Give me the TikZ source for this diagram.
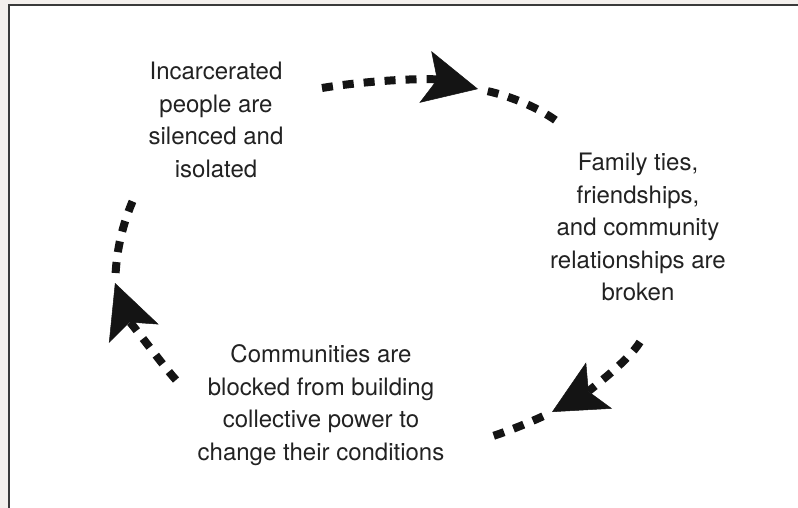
\documentclass[tikz,border=0pt]{standalone}
\usepackage{fontspec}
\setmainfont{TeX Gyre Heros}
\usetikzlibrary{arrows.meta}
\definecolor{framebg}{HTML}{F4F0ED}
\definecolor{framegray}{HTML}{3A3A3A}
\definecolor{inkgray}{HTML}{222222}

\begin{document}
\begin{tikzpicture}[x=1pt, y=-1pt,
        caption/.style={align=center, inner sep=0pt, text=inkgray, font=\fontsize{24}{32.5}\selectfont},
        loopline/.style={line width=8pt, dash pattern=on 11pt off 10pt, color=black!92},
        looptip/.style={-{Stealth[length=54pt, width=53pt, inset=12pt, line width=0.5pt]}},
        looptail/.style={shorten <=10pt}]
        \useasboundingbox (0,0) rectangle (798,508);
        \fill[framebg] (0,0) rectangle (798,508);
        \fill[white] (9,5) rectangle (798,508);
        \draw[framegray, line width=1.6pt] (9,508) -- (9,5) -- (798,5);

        \node[caption] (silenced) at (216,120) {Incarcerated\\people are\\silenced and\\isolated};
        \node[caption] (broken) at (638,227) {Family ties,\\friendships,\\and community\\relationships are\\broken};
        \node[caption] (blocked) at (321,405) {Communities are\\blocked from building\\collective power to\\change their conditions};

        \coordinate (top start) at (322,88);
        \coordinate (top tip) at (478,89);
        \coordinate (top end) at (558,122);
        \coordinate (right start) at (640,342);
        \coordinate (right tip) at (552,412);
        \coordinate (right end) at (490,437);
        \coordinate (left start) at (176,380);
        \coordinate (left tip) at (115,283);
        \coordinate (left end) at (134,198);

        \draw[loopline, looptip] (top start) .. controls (370,80) and (430,78) .. (top tip);
        \draw[loopline, looptail] (top tip) .. controls (505,95) and (535,105) .. (top end);
        \draw[loopline, looptip] (right start) .. controls (628,362) and (584,394) .. (right tip);
        \draw[loopline, looptail] (right tip) .. controls (535,420) and (512,430) .. (right end);
        \draw[loopline, looptip] (left start) .. controls (160,362) and (128,318) .. (left tip);
        \draw[loopline, looptail] (left tip) .. controls (117,250) and (122,225) .. (left end);
    \end{tikzpicture}
\end{document}
